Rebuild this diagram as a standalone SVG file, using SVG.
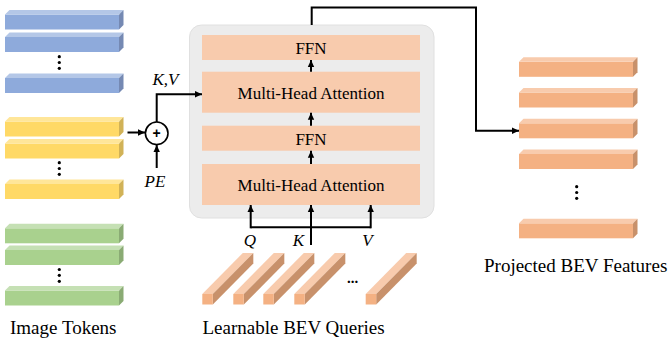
<svg xmlns="http://www.w3.org/2000/svg" xmlns:xlink="http://www.w3.org/1999/xlink" width="672" height="343" viewBox="0 0 672 343" font-family="Liberation Serif, Times New Roman, DejaVu Serif, serif">
<style>
text{fill:#000}
.lbl{font-size:19px}
.box{fill:#f8cbad}
.bt{font-size:17px;text-anchor:middle}
.it{font-size:17px;font-style:italic;text-anchor:middle}
.c{fill:none;stroke:#000;stroke-width:2}
.dot{fill:#000}
</style>
<defs>
<marker id="ah" markerUnits="userSpaceOnUse" markerWidth="8" markerHeight="8" refX="7" refY="4" orient="auto">
<path d="M0,0.8 L7,4 L0,7.2 Z" fill="#000"/>
</marker>
<g id="barBlue">
<rect x="0" y="0" width="114" height="15" fill="#8eaadb"/>
<polygon points="0,0 4.5,-4.5 118.5,-4.5 114,0" fill="#b4c7e7"/>
<polygon points="114,0 118.5,-4.5 118.5,10.5 114,15" fill="#7589b3"/>
</g>
<g id="barYellow">
<rect x="0" y="0" width="114" height="15" fill="#ffd966"/>
<polygon points="0,0 4.5,-4.5 118.5,-4.5 114,0" fill="#ffe699"/>
<polygon points="114,0 118.5,-4.5 118.5,10.5 114,15" fill="#d1b257"/>
</g>
<g id="barGreen">
<rect x="0" y="0" width="114" height="15" fill="#a9d18e"/>
<polygon points="0,0 4.5,-4.5 118.5,-4.5 114,0" fill="#c5e0b4"/>
<polygon points="114,0 118.5,-4.5 118.5,10.5 114,15" fill="#8aab74"/>
</g>
<g id="barOrange">
<rect x="0" y="0" width="114" height="15" fill="#f4b183"/>
<polygon points="0,0 4.5,-4.5 118.5,-4.5 114,0" fill="#f8cbad"/>
<polygon points="114,0 118.5,-4.5 118.5,10.5 114,15" fill="#c8916b"/>
</g>
<g id="qbar">
<polygon points="0,0 40.5,-41 51,-41 10.5,0" fill="#f8cbad"/>
<polygon points="10.5,0 51,-41 51,-30.5 10.5,10.5" fill="#c8916b"/>
<rect x="0" y="0" width="10.5" height="10.5" fill="#f4b183"/>
</g>
</defs>

<g id="image-tokens">
<use xlink:href="#barBlue" x="5" y="14.5"/>
<use xlink:href="#barBlue" x="5" y="37"/>
<circle class="dot" cx="59.3" cy="56.7" r="1.6"/>
<circle class="dot" cx="59.3" cy="62.5" r="1.6"/>
<circle class="dot" cx="59.3" cy="68.3" r="1.6"/>
<use xlink:href="#barBlue" x="5" y="78"/>
<use xlink:href="#barYellow" x="5" y="121.5"/>
<use xlink:href="#barYellow" x="5" y="143.5"/>
<circle class="dot" cx="59.3" cy="162.7" r="1.6"/>
<circle class="dot" cx="59.3" cy="168.5" r="1.6"/>
<circle class="dot" cx="59.3" cy="174.3" r="1.6"/>
<use xlink:href="#barYellow" x="5" y="184"/>
<use xlink:href="#barGreen" x="5" y="228.3"/>
<use xlink:href="#barGreen" x="5" y="250"/>
<circle class="dot" cx="59.3" cy="269.5" r="1.6"/>
<circle class="dot" cx="59.3" cy="275.3" r="1.6"/>
<circle class="dot" cx="59.3" cy="281.3" r="1.6"/>
<use xlink:href="#barGreen" x="5" y="290.5"/>
<text class="lbl" x="10" y="333.5">Image Tokens</text>
</g>

<g id="plus">
<circle cx="156.7" cy="133.3" r="11.3" fill="#fff" stroke="#000" stroke-width="1.6"/>
<text x="156.7" y="138.3" font-family="Liberation Sans, Arial, sans-serif" font-size="14" font-weight="bold" text-anchor="middle">+</text>
</g>
<g id="pe"><text class="it" x="155" y="187.3">PE</text></g>
<g id="kv"><text class="it" x="165.5" y="85">K,V</text></g>

<g id="transformer">
<rect x="189.5" y="25" width="244.5" height="193" rx="12" fill="#ececec" stroke="#e0e0e0" stroke-width="1"/>
<g id="ffn1"><rect class="box" x="202" y="35" width="218" height="25"/><text class="bt" x="311" y="54">FFN</text></g>
<g id="mha1"><rect class="box" x="202" y="71.7" width="218" height="41"/><text class="bt" x="311" y="99.3">Multi-Head Attention</text></g>
<g id="ffn2"><rect class="box" x="202" y="125.7" width="218" height="25"/><text class="bt" x="311" y="145">FFN</text></g>
<g id="mha2"><rect class="box" x="202" y="164" width="218" height="41"/><text class="bt" x="311" y="191">Multi-Head Attention</text></g>
</g>

<g id="qkv-labels">
<text class="it" x="250" y="245.5">Q</text>
<text class="it" x="298.5" y="245.5">K</text>
<text class="it" x="367.5" y="245.5">V</text>
</g>

<g id="bev-queries">
<use xlink:href="#qbar" x="202.3" y="294"/>
<use xlink:href="#qbar" x="233.3" y="294"/>
<use xlink:href="#qbar" x="263.3" y="294"/>
<use xlink:href="#qbar" x="294.3" y="294"/>
<text x="352.5" y="283" font-size="15" font-weight="bold" text-anchor="middle">...</text>
<use xlink:href="#qbar" x="365.7" y="294"/>
<text class="lbl" x="202.5" y="333.5">Learnable BEV Queries</text>
</g>

<g id="bev-features">
<use xlink:href="#barOrange" x="519" y="61.8"/>
<use xlink:href="#barOrange" x="519" y="92.5"/>
<use xlink:href="#barOrange" x="519" y="123.3"/>
<use xlink:href="#barOrange" x="519" y="154"/>
<circle class="dot" cx="576.7" cy="186.7" r="1.6"/>
<circle class="dot" cx="576.7" cy="192.5" r="1.6"/>
<circle class="dot" cx="576.7" cy="198.3" r="1.6"/>
<use xlink:href="#barOrange" x="519" y="223.3"/>
<text class="lbl" x="484" y="271.7">Projected BEV Features</text>
</g>

<g id="connectors">
<path class="c" d="M127.5,132.5 H145" marker-end="url(#ah)"/>
<path class="c" d="M156.7,168 V145" marker-end="url(#ah)"/>
<path class="c" d="M156.7,122 V94.3 H202" marker-end="url(#ah)"/>
<path class="c" d="M311,71.7 V60" marker-end="url(#ah)"/>
<path class="c" d="M311,125.7 V112.7" marker-end="url(#ah)"/>
<path class="c" d="M311,164 V150.7" marker-end="url(#ah)"/>
<path class="c" d="M250.7,227.3 H370.7"/>
<path class="c" d="M250.7,228.3 V205" marker-end="url(#ah)"/>
<path class="c" d="M370.7,228.3 V205" marker-end="url(#ah)"/>
<path class="c" d="M311,245 V205" marker-end="url(#ah)"/>
<path class="c" d="M311.7,25 V7.5 H476 V130.7 H519" marker-end="url(#ah)"/>
</g>
</svg>
